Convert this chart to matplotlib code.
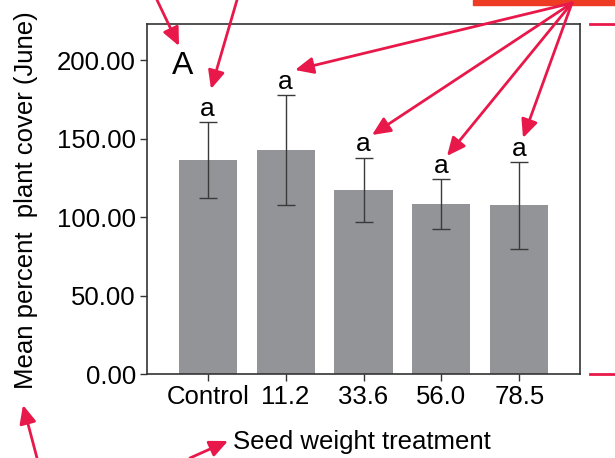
import matplotlib
matplotlib.use("Agg")
import matplotlib.pyplot as plt
from matplotlib.patches import Rectangle, FancyArrowPatch
from matplotlib.lines import Line2D

plt.rcParams['font.family'] = ['Liberation Sans', 'DejaVu Sans']

categories = ["Control", "11.2", "33.6", "56.0", "78.5"]
means = [136.3, 142.7, 117.2, 108.3, 107.4]
errors = [24.2, 34.8, 20.5, 15.8, 27.6]
letters = ["a", "a", "a", "a", "a"]
panel_label = "A"
yticks = [0, 50, 100, 150, 200]

W, H = 615, 458
fig = plt.figure(figsize=(W / 100, H / 100), dpi=100)
ax = fig.add_axes([147 / W, (H - 374) / H, (580 - 147) / W, (374 - 24) / H])

x = list(range(len(categories)))
ax.bar(x, means, width=0.745, color="#939498", zorder=2)
ax.errorbar(x, means, yerr=errors, fmt="none", ecolor="#3a3a3a",
            elinewidth=1.0, capsize=6.5, capthick=1.0, zorder=3)
for xi, m, e, l in zip(x, means, errors, letters):
    ax.annotate(l, (xi, m + e), xytext=(0, 1.0), textcoords="offset points",
                ha="center", va="bottom", fontsize=19)

ax.text(0.083, 0.88, panel_label, transform=ax.transAxes, fontsize=23,
        ha="center", va="center")

ax.set_xlim(-0.78, 4.78)
ax.set_ylim(0, 223)
ax.set_xticks(x)
ax.set_xticklabels(categories)
ax.set_yticks(yticks)
ax.set_yticklabels([f"{v:.2f}" for v in yticks])
ax.tick_params(axis="both", labelsize=18.5, direction="out", length=5,
               width=1.0, color="#333333", pad=3)
for s in ax.spines.values():
    s.set_color("#333333")
    s.set_linewidth(1.2)

fig.text(362 / W, (H - 442) / H, "Seed weight treatment", fontsize=18.5,
         ha="center", va="center")
fig.text(26 / W, (H - 200) / H, "Mean percent  plant cover (June)", fontsize=18.5,
         ha="center", va="center", rotation=90)

# red annotation overlays
red = "#e8194a"
fig.patches.append(Rectangle((473 / W, (H - 5) / H), (W - 473) / W, 5 / H,
                             transform=fig.transFigure, color="#ee3b24", zorder=10))
for yy in (24, 374):
    fig.lines.append(Line2D([590 / W, 1.0], [(H - yy) / H] * 2,
                            transform=fig.transFigure, color=red, lw=2, zorder=10))

arrows = [
    ((157, 0), (179, 46)),
    ((237, 0), (211, 89)),
    ((572, 3), (295, 70)),
    ((572, 3), (372, 135)),
    ((572, 3), (447, 156)),
    ((572, 3), (523, 138)),
    ((37, 458), (23, 405)),
    ((190, 458), (228, 441)),
]
for (tx, ty), (hx, hy) in arrows:
    fig.add_artist(FancyArrowPatch(
        (tx, H - ty), (hx, H - hy), transform=None,
        arrowstyle="-|>,head_length=1.1,head_width=0.5", mutation_scale=10,
        color=red, lw=2.0, shrinkA=0, shrinkB=0, zorder=11))

fig.savefig("out.png", dpi=100)
